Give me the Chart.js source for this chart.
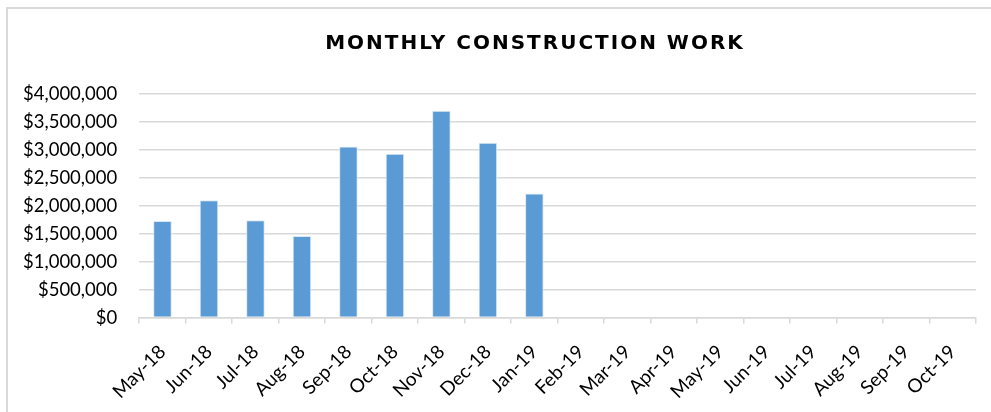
<!DOCTYPE html>
<html>
<head>
<meta charset="utf-8">
<script src="https://cdn.jsdelivr.net/npm/chart.js@4"></script>
<style>
  html, body { margin: 0; padding: 0; background: #fff; }
  #wrap { position: relative; width: 991px; height: 412px; overflow: hidden; }
  #frame {
    position: absolute; left: 6px; top: 7px; right: -10px; bottom: -10px;
    border-top: 2px solid #d9d9d9; border-left: 2px solid #d9d9d9;
  }
  #title {
    position: absolute; left: 235px; width: 600px; top: 30px;
    text-align: center; font: bold 20px "DejaVu Sans"; letter-spacing: 2px; color: #000;
  }
  #chart { position: absolute; left: 0; top: 0; }
</style>
</head>
<body>
<div id="wrap">
  <div id="frame"></div>
  <canvas id="chart" width="991" height="412"></canvas>
  <div id="title">MONTHLY CONSTRUCTION WORK</div>
</div>
<script>
const months = ['May-18', 'Jun-18', 'Jul-18', 'Aug-18', 'Sep-18', 'Oct-18', 'Nov-18', 'Dec-18', 'Jan-19',
                'Feb-19', 'Mar-19', 'Apr-19', 'May-19', 'Jun-19', 'Jul-19', 'Aug-19', 'Sep-19', 'Oct-19'];
const workValues = [1730000, 2100000, 1740000, 1460000, 3060000, 2930000, 3700000, 3130000, 2220000,
                    null, null, null, null, null, null, null, null, null];

const yFont = { family: 'Lato', size: 18.5 };
const xFont = { family: 'Lato', size: 19 };
const gridGray = '#d9d9d9';

function drawChart() {
    const ctx = document.getElementById('chart').getContext('2d');
    new Chart(ctx, {
        type: 'bar',
        data: {
            labels: months,
            datasets: [{
                label: 'Construction work',
                data: workValues,
                backgroundColor: '#5b9bd5',
                borderColor: '#dbe8f5',
                borderWidth: 1,
                barPercentage: 0.4,
                categoryPercentage: 1.0
            }]
        },
        options: {
            responsive: false,
            animation: false,
            // bottom padding is negative: Chart.js reserves more room for the 45° labels than they use
            layout: { padding: { left: 1, right: 15, top: 94, bottom: -8 } },
            scales: {
                x: {
                    grid: { display: true, offset: true, drawOnChartArea: false, drawTicks: true, tickLength: 6, color: gridGray, lineWidth: 1.5 },
                    border: { color: gridGray, width: 1.5 },
                    ticks: { color: '#000', font: xFont, minRotation: 45, maxRotation: 45, autoSkip: false, padding: 17 }
                },
                y: {
                    min: 0,
                    max: 4000000,
                    grid: { color: gridGray, lineWidth: 1.5, drawTicks: false },
                    border: { display: false },
                    ticks: {
                        stepSize: 500000,
                        padding: 22,
                        color: '#000',
                        font: yFont,
                        callback: v => '$' + v.toLocaleString('en-US')
                    }
                }
            },
            plugins: {
                legend: { display: false },
                tooltip: { enabled: false }
            }
        }
    });
}

// make sure the label fonts are ready before Chart.js measures the ticks
Promise.all([
    document.fonts.load('18.5px Lato'),
    document.fonts.load('bold 20px "DejaVu Sans"')
]).then(drawChart, drawChart);
</script>
</body>
</html>
